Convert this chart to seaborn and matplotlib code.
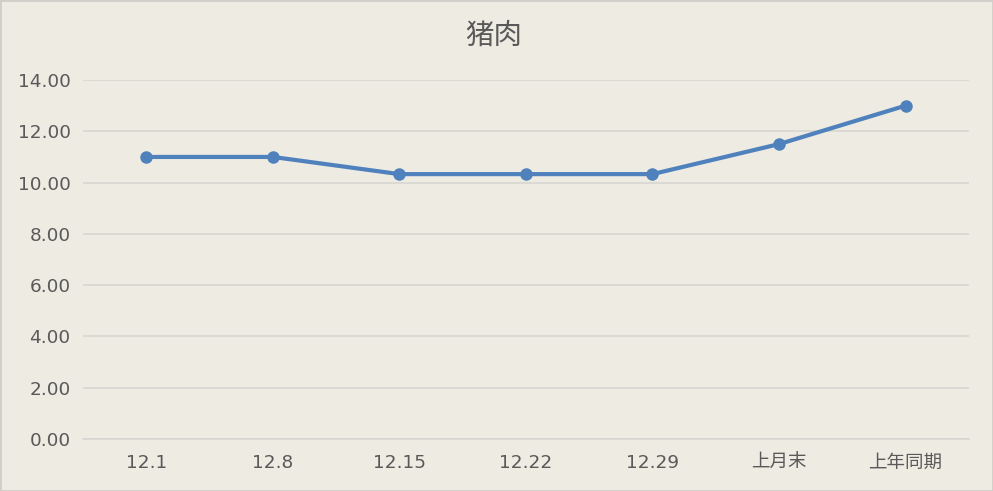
import numpy as np
import pandas as pd
import matplotlib
matplotlib.use("Agg")
import matplotlib.pyplot as plt
import seaborn as sns
from matplotlib.patches import Rectangle

categories = ["12.1", "12.8", "12.15", "12.22", "12.29", "上月末", "上年同期"]
prices = [11.00, 11.00, 10.33, 10.33, 10.33, 11.50, 13.00]
title = "猪肉"

sns.set_theme(style="white")
plt.rcParams["font.family"] = ["DejaVu Sans", "Noto Sans CJK SC"]

bg = "#EEEBE2"
df = pd.DataFrame({"date": categories, "price": prices})

fig = plt.figure(figsize=(9.93, 4.91), dpi=100, facecolor=bg)
ax = fig.add_axes([0.0836, 0.106, 0.892, 0.731])
ax.set_facecolor(bg)

sns.lineplot(data=df, x="date", y="price", ax=ax, color="#4F81BD",
             linewidth=3.0, marker="o", markersize=9, markeredgewidth=0,
             sort=False)

ax.set_xlim(-0.5, len(categories) - 0.5)
ax.set_ylim(0, 14)
ax.set_yticks(np.arange(0, 15, 2))
ax.set_yticklabels([f"{v:.2f}" for v in np.arange(0, 15, 2)])
ax.yaxis.grid(True, color="#D6D4CF", linewidth=1.1)
ax.set_axisbelow(True)
for s in ["top", "right", "left"]:
    ax.spines[s].set_visible(False)
ax.spines["bottom"].set_color("#D6D4CF")
ax.spines["bottom"].set_linewidth(1.1)
ax.tick_params(axis="both", length=0, labelsize=13.3, labelcolor="#595959")
ax.tick_params(axis="x", pad=11)
ax.tick_params(axis="y", pad=9)
for lbl in ax.get_xticklabels():
    if not lbl.get_text().replace(".", "").isdigit():
        lbl.set_family(["Noto Sans CJK SC"])
        lbl.set_fontsize(13.3)
ax.set_xlabel("")
ax.set_ylabel("")

fig.text(0.4975, 0.928, title, ha="center", va="center", fontsize=20.5,
         color="#595959", family=["Noto Sans CJK SC"])

fig.patches.append(Rectangle((0, 0), 1, 1, transform=fig.transFigure,
                             fill=False, edgecolor="#D0CEC8", linewidth=2))

fig.savefig("out.png", dpi=100, facecolor=bg)
